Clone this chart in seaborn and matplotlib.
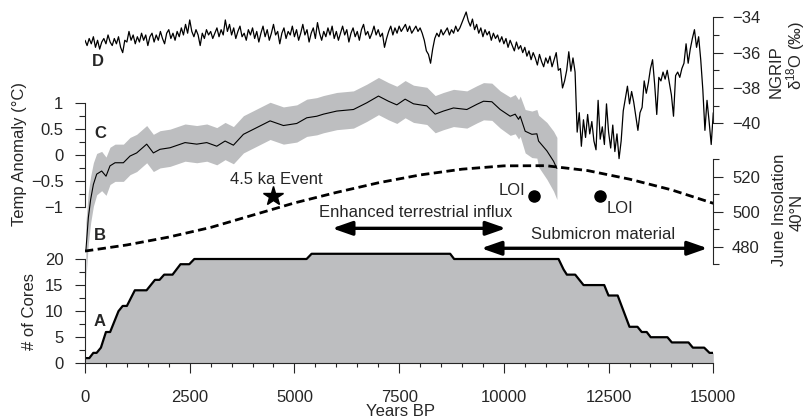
import numpy as np
import matplotlib
matplotlib.use("Agg")
import matplotlib.pyplot as plt
import seaborn as sns
from matplotlib.ticker import FixedLocator, FuncFormatter, MultipleLocator

# ---------------- data ----------------
# A: number of cores
core_years = [0, 103, 199, 278, 380, 500, 600, 800, 900, 1000, 1190, 1470, 1670, 1780,
              1890, 2090, 2280, 2490, 2610, 5290, 5410, 8718, 8813, 11305, 11425, 11504,
              11703, 11902, 12396, 12498, 12717, 12999, 13190, 13291, 13410, 13506, 13905,
              14010, 14408, 14512, 14782, 14910, 15000]
core_counts = [1, 1, 2, 2, 3, 6, 6, 10, 11, 11, 14, 14, 16, 16,
               17, 17, 19, 19, 20, 20, 21, 21, 20, 20, 18, 17,
               17, 15, 15, 13, 13, 7, 7, 6, 6, 5, 5,
               4, 4, 3, 3, 2, 2]

# C: temperature anomaly (deg C) with uncertainty half-width
temp_years = [20, 80, 135, 200, 279, 398, 502, 597, 717, 916, 1075, 1234, 1473, 1632, 1791,
              2030, 2389, 2668, 2907, 3146, 3344, 3543, 3782, 4101, 4419, 4737, 5056, 5295,
              5534, 5692, 6011, 6409, 6728, 7006, 7245, 7444, 7643, 7842, 8161, 8360, 8558,
              8797, 9116, 9355, 9514, 9713, 9912, 10151, 10270, 10350, 10390, 10509, 10669,
              10788, 10828, 11027, 11186, 11266]
temp_anom = [-1.86, -1.21, -0.86, -0.57, -0.37, -0.31, -0.41, -0.21, -0.15, -0.15, -0.02, 0.04,
             0.21, 0.04, 0.11, 0.14, 0.24, 0.21, 0.24, 0.17, 0.27, 0.19, 0.40, 0.53, 0.66, 0.57,
             0.61, 0.72, 0.75, 0.79, 0.85, 0.88, 1.01, 1.14, 1.04, 0.97, 1.08, 0.99, 0.95, 0.79,
             0.85, 0.91, 0.88, 0.98, 1.04, 1.03, 0.88, 0.75, 0.79, 0.69, 0.75, 0.46, 0.40, 0.41,
             0.27, 0.08, -0.12, -0.26]
temp_err = [0.55, 0.50, 0.45, 0.42, 0.40, 0.38, 0.37, 0.36, 0.36, 0.36, 0.36, 0.36, 0.36, 0.36,
            0.36, 0.36, 0.36, 0.36, 0.36, 0.36, 0.36, 0.36, 0.36, 0.36, 0.36, 0.36, 0.36, 0.36,
            0.36, 0.36, 0.36, 0.36, 0.36, 0.36, 0.36, 0.36, 0.36, 0.36, 0.36, 0.36, 0.36, 0.36,
            0.36, 0.36, 0.36, 0.36, 0.36, 0.37, 0.38, 0.38, 0.39, 0.42, 0.45, 0.47, 0.50, 0.55,
            0.58, 0.60]

# B: June insolation 40N (W/m2)
insol_years = [0, 1000, 2000, 3000, 4000, 5000, 6000, 7000, 8000, 9000, 10000, 11000,
               12000, 13000, 14000, 15000]
insol_vals = [477.5, 481.0, 485.5, 491.0, 498.0, 505.0, 511.0, 516.5, 521.0, 524.3, 526.2,
              526.3, 523.5, 518.6, 512.5, 504.8]

# D: NGRIP d18O, 50-year spacing from 0 BP
ngrip_holocene = [
    -35.3, -35.6, -35.2, -35.5, -35.1, -35.7, -35.3, -35.8, -35.4, -35.2, -35.5, -35.0, -35.4, -35.6, -35.2, -35.5, -35.1, -35.7, -36.0, -35.3,
    -35.4, -34.8, -35.3, -35.0, -35.5, -35.1, -35.4, -34.9, -35.3, -35.0, -35.6, -35.1, -34.9, -35.4, -35.0, -35.3, -34.8, -35.2, -35.5, -34.9,
    -34.7, -35.2, -34.9, -35.3, -34.8, -35.1, -34.6, -35.0, -34.4, -34.9, -34.15, -34.8, -35.1, -34.7, -35.0, -35.6, -34.9, -35.2, -34.7, -35.0,
    -34.8, -35.2, -34.9, -34.6, -35.1, -34.7, -35.0, -34.15, -34.8, -34.4, -35.0, -34.6, -35.2, -34.8, -34.5, -35.1, -34.9, -35.3, -34.7, -35.0,
    -34.6, -35.2, -34.8, -35.4, -34.9, -34.5, -35.1, -34.7, -35.3, -34.9, -34.4, -35.0, -34.8, -35.5, -34.9, -34.6, -35.2, -34.8, -35.0, -34.5,
    -35.1, -34.7, -35.3, -34.9, -34.4, -35.0, -34.7, -35.4, -34.9, -34.6, -35.2, -34.3, -34.9, -35.3, -34.8, -35.1, -34.6, -35.0, -34.5, -35.2,
    -34.8, -35.3, -34.9, -34.5, -35.0, -34.7, -35.4, -34.9, -34.6, -35.1, -34.8, -35.3, -34.7, -34.4, -35.0, -34.8, -35.2, -34.9, -34.5, -35.0,
    -34.7, -35.1, -34.9, -35.7, -35.2, -34.8, -34.5, -35.0, -34.6, -34.9, -34.5, -34.8, -34.6, -34.4, -34.8, -34.5, -34.9, -34.7, -34.5, -34.8,
    -34.6, -34.9, -35.3, -35.9, -36.1, -36.6, -35.8, -35.2, -34.9, -35.1, -34.7, -35.0, -34.8, -34.6, -35.0, -34.7, -34.9, -34.5, -34.8, -34.6,
    -34.3, -34.0, -33.7, -34.2, -34.5, -34.1, -34.7, -34.4, -34.9, -34.6, -35.1, -34.7, -35.0, -34.8, -35.3, -34.9, -35.2, -35.0, -35.4, -35.1,
    -35.5, -35.2, -35.7, -35.3, -35.6, -35.9, -35.4, -35.8, -35.6, -36.0, -35.7, -36.2, -35.9, -36.4, -36.0, -36.3, -36.7, -36.1, -36.5, -36.8,
    -36.3, -36.6, -36.2, -36.8, -36.4, -36.0, -37.0, -36.9, -38.0, -37.6, -37.0, -35.95, -37.05, -36.3, -37.1,
]
ngrip_younger_dryas = [
    -40.5, -39.4, -41.3, -39.8, -40.8, -39.5, -40.6, -39.9, -41.0, -41.5, -38.7, -40.9,
    -40.2, -41.2, -38.9, -40.5, -41.4, -40.1, -41.6, -40.6, -42.0, -41.0, -39.3,
]
ngrip_bolling = [
    -38.6, -37.9, -38.9, -38.2, -38.8, -39.6, -40.4, -39.4, -39.1, -37.6,
    -38.3, -37.7, -36.9, -36.4, -37.8, -39.5, -37.4, -37.6, -37.1, -37.5,
    -37.0, -37.7, -38.4, -39.6, -37.3, -37.1, -37.4, -36.9, -36.6, -35.5,
    -36.6, -35.8, -35.2, -34.7, -35.7, -35.1, -36.4, -38.1, -40.4, -38.7,
    -39.9, -41.2, -39.4,
]
ngrip_step = 50

# annotations
event_year, event_insol = 4500, 509.1
loi_years = [10724, 12300]
loi_insol = [509.0, 509.0]
influx_span = [5900, 10050]
submicron_span = [9458, 14863]

# ---------------- style ----------------
sns.set_style("ticks")
plt.rcParams["font.family"] = ["Liberation Sans", "DejaVu Sans"]
FS = 12
plt.rcParams["font.size"] = FS
plt.rcParams["axes.linewidth"] = 0.8

W, H = 806, 420
fig = plt.figure(figsize=(W / 100, H / 100), dpi=100)
X0, X1 = 85.0, 713.3
TOP, BOT = 2.0, 363.3
rect = [X0 / W, 1 - BOT / H, (X1 - X0) / W, (BOT - TOP) / H]
GRAY = "#bdbec0"


def lims(va, pa, vb, pb):
    s = (pb - pa) / (va - vb)
    return vb - (BOT - pb) / s, va + (pa - TOP) / s


def fpos(x, y):
    return x / W, 1 - y / H


def minus(v, pos=None):
    return f"{v:g}".replace("-", "\u2212")


def base(ax):
    ax.set_xlim(0, 15000)
    ax.patch.set_visible(False)
    for s in ax.spines.values():
        s.set_visible(False)
    ax.set_xticks([])


def finish(ax):
    ax.set_xlim(0, 15000)
    ax.set_xlabel("")
    ax.set_ylabel("")


# ---- A: cores ----
ax_a = fig.add_axes(rect)
base(ax_a)
ax_a.set_ylim(*lims(20, 259, 0, 363.3))
ax_a.fill_between(core_years, core_counts, 0, color=GRAY, lw=0)
sns.lineplot(x=core_years, y=core_counts, ax=ax_a, color="black", lw=1.6,
             estimator=None, legend=False)
finish(ax_a)
ax_a.spines["left"].set_visible(True)
ax_a.spines["left"].set_bounds(0, 20)
ax_a.spines["bottom"].set_visible(True)
ax_a.spines["bottom"].set_bounds(0, 15000)
ax_a.spines["bottom"].set_position(("data", 0))
ax_a.xaxis.set_major_locator(MultipleLocator(2500))
ax_a.xaxis.set_minor_locator(MultipleLocator(500))
ax_a.yaxis.set_major_locator(FixedLocator([0, 5, 10, 15, 20]))
ax_a.yaxis.set_minor_locator(FixedLocator([2.5, 7.5, 12.5, 17.5]))
ax_a.tick_params(axis="x", which="major", length=7.5, width=0.8, pad=12, labelsize=FS)
ax_a.tick_params(axis="x", which="minor", length=3, width=0.8)
ax_a.tick_params(axis="y", which="major", length=7.5, width=0.8, pad=8, labelsize=FS)
ax_a.tick_params(axis="y", which="minor", length=4.5, width=0.8)

# ---- C: temperature ----
ax_c = fig.add_axes(rect)
base(ax_c)
ax_c.set_ylim(*lims(1, 103.3, -1, 206.7))
lo = [t - e for t, e in zip(temp_anom, temp_err)]
hi = [t + e for t, e in zip(temp_anom, temp_err)]
ax_c.fill_between(temp_years, lo, hi, color=GRAY, lw=0)
sns.lineplot(x=temp_years, y=temp_anom, ax=ax_c, color="black", lw=0.8,
             estimator=None, legend=False)
finish(ax_c)
ax_c.set_xticks([])
ax_c.spines["left"].set_visible(True)
ax_c.spines["left"].set_bounds(-1, 1)
ax_c.yaxis.set_major_locator(FixedLocator([-1, -0.5, 0, 0.5, 1]))
ax_c.yaxis.set_minor_locator(FixedLocator([-0.75, -0.25, 0.25, 0.75]))
ax_c.yaxis.set_major_formatter(FuncFormatter(minus))
ax_c.tick_params(axis="y", which="major", length=7.5, width=0.8, pad=8, labelsize=FS)
ax_c.tick_params(axis="y", which="minor", length=4.5, width=0.8)

# ---- B: insolation ----
ax_b = fig.add_axes(rect)
base(ax_b)
ax_b.set_ylim(*lims(520, 176.7, 480, 246.7))
sns.lineplot(x=insol_years, y=insol_vals, ax=ax_b, color="black", lw=2.0,
             estimator=None, legend=False)
ax_b.lines[-1].set_dashes((3.0, 1.6))
finish(ax_b)
ax_b.set_xticks([])
ax_b.yaxis.tick_right()
ax_b.spines["right"].set_visible(True)
ax_b.spines["right"].set_bounds(470, 530)
ax_b.yaxis.set_major_locator(FixedLocator([480, 500, 520]))
ax_b.yaxis.set_minor_locator(FixedLocator([470, 490, 510, 530]))
ax_b.tick_params(axis="y", which="major", length=7.5, width=0.8, pad=6, labelsize=FS)
ax_b.tick_params(axis="y", which="minor", length=4.5, width=0.8)

# annotations on insolation axes
ax_b.plot([event_year], [event_insol], marker="*", ms=15, color="black", ls="none")
ax_b.text(4579, 518.5, "4.5 ka Event", ha="center", va="center", fontsize=FS)
ax_b.plot(loi_years, loi_insol, marker="o", ms=8, color="black", ls="none")
ax_b.text(10510, 512.3, "LOI", ha="right", va="center", fontsize=FS)
ax_b.text(12444, 501.9, "LOI", ha="left", va="center", fontsize=FS)
ap = dict(arrowstyle="<|-|>,head_length=1.2,head_width=0.42", lw=2.4, color="black",
          shrinkA=0, shrinkB=0, mutation_scale=10)
ax_b.annotate("", xy=(influx_span[0], 490.5), xytext=(influx_span[1], 490.5), arrowprops=ap)
ax_b.text(7906, 499.8, "Enhanced terrestrial influx", ha="center", va="center", fontsize=FS)
ax_b.annotate("", xy=(submicron_span[0], 479.1), xytext=(submicron_span[1], 479.1), arrowprops=ap)
ax_b.text(12373, 486.7, "Submicron material", ha="center", va="center", fontsize=FS)

# ---- D: NGRIP ----
ax_d = fig.add_axes(rect)
base(ax_d)
ax_d.set_ylim(*lims(-34, 17.3, -40, 123.3))
ngrip_vals = ngrip_holocene + ngrip_younger_dryas + ngrip_bolling
ngrip_years = [i * ngrip_step for i in range(len(ngrip_vals))]
sns.lineplot(x=ngrip_years, y=ngrip_vals, ax=ax_d, color="black", lw=0.9,
             estimator=None, legend=False)
finish(ax_d)
ax_d.set_xticks([])
ax_d.yaxis.tick_right()
ax_d.spines["right"].set_visible(True)
ax_d.spines["right"].set_bounds(-40, -34)
ax_d.yaxis.set_major_locator(FixedLocator([-40, -38, -36, -34]))
ax_d.yaxis.set_minor_locator(FixedLocator([-39, -37, -35]))
ax_d.yaxis.set_major_formatter(FuncFormatter(minus))
ax_d.tick_params(axis="y", which="major", length=7.5, width=0.8, pad=6, labelsize=FS)
ax_d.tick_params(axis="y", which="minor", length=4.5, width=0.8)

# ---- figure texts ----
for s, (x, y) in {"D": (98, 61), "C": (100, 133), "B": (100, 235), "A": (100, 321)}.items():
    fig.text(*fpos(x, y), s, ha="center", va="center", fontsize=FS, fontweight="bold")

fig.text(*fpos(20, 154), "Temp Anomaly (\u00b0C)", rotation=90, ha="center", va="center", fontsize=FS)
fig.text(*fpos(29, 311), "# of Cores", rotation=90, ha="center", va="center", fontsize=FS)
fig.text(*fpos(400, 412), "Years BP", ha="center", va="center", fontsize=FS)
fig.text(*fpos(779, 210), "June Insolation", rotation=90, ha="center", va="center", fontsize=FS)
fig.text(*fpos(797, 212), "40\u00b0N", rotation=90, ha="center", va="center", fontsize=FS)
fig.text(*fpos(776, 72), "NGRIP", rotation=90, ha="center", va="center", fontsize=FS)
fig.text(*fpos(796, 55), "\u03b4$\\mathregular{^{18}}$O (\u2030)", rotation=90, ha="center",
         va="center", fontsize=FS)

fig.savefig("out.png", dpi=100)
